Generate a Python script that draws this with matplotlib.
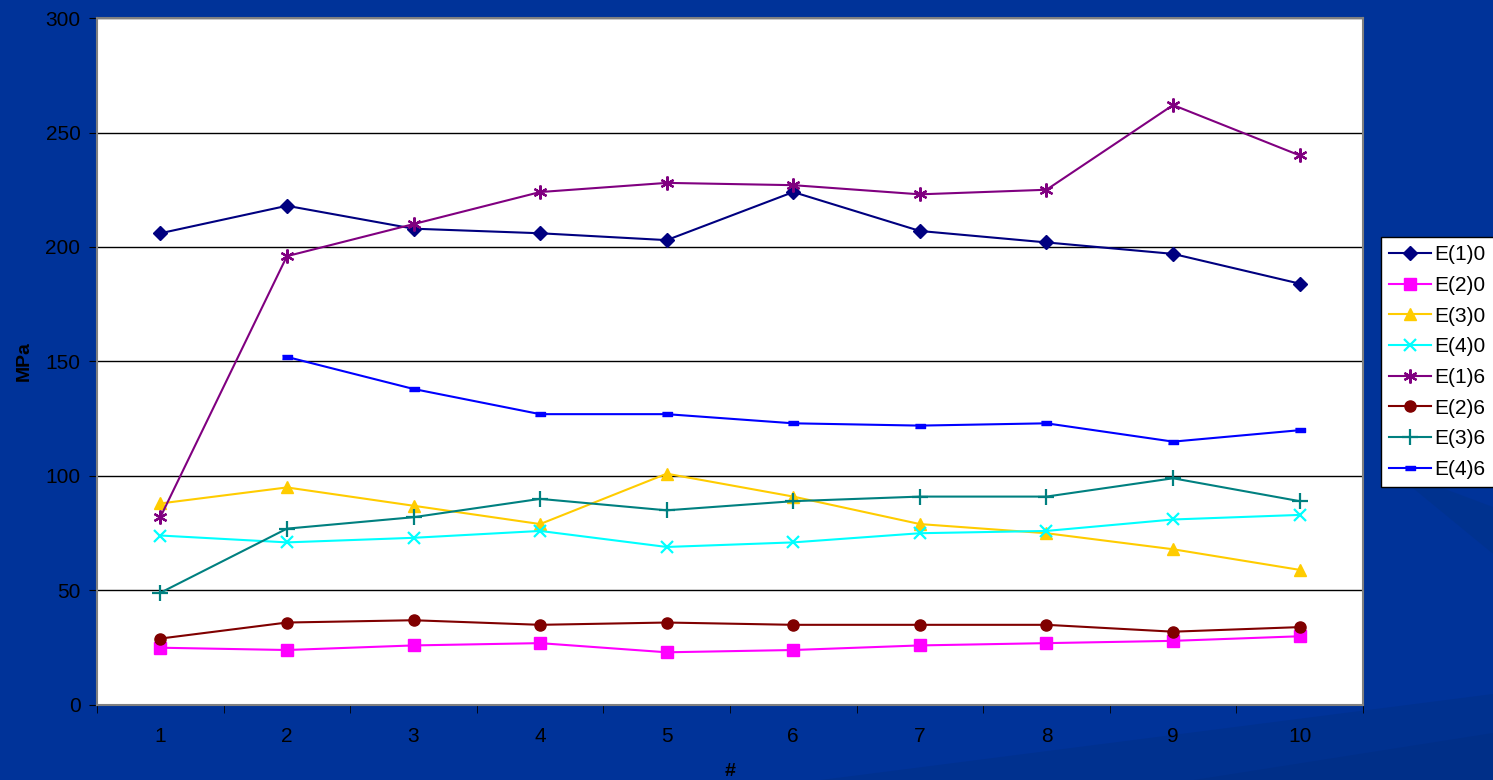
import numpy as np
import matplotlib
matplotlib.use("Agg")
import matplotlib.pyplot as plt
from matplotlib.patches import Polygon

plt.rcParams['font.family'] = ['Liberation Sans', 'DejaVu Sans']

# ---- datos ----
x = np.arange(1, 11)
e10 = [206, 218, 208, 206, 203, 224, 207, 202, 197, 184]
e20 = [25, 24, 26, 27, 23, 24, 26, 27, 28, 30]
e30 = [88, 95, 87, 79, 101, 91, 79, 75, 68, 59]
e40 = [74, 71, 73, 76, 69, 71, 75, 76, 81, 83]
e16 = [82, 196, 210, 224, 228, 227, 223, 225, 262, 240]
e26 = [29, 36, 37, 35, 36, 35, 35, 35, 32, 34]
e36 = [49, 77, 82, 90, 85, 89, 91, 91, 99, 89]
e46 = [np.nan, 152, 138, 127, 127, 123, 122, 123, 115, 120]

labels = ["E(1)0", "E(2)0", "E(3)0", "E(4)0", "E(1)6", "E(2)6", "E(3)6", "E(4)6"]
yticks = [0, 50, 100, 150, 200, 250, 300]

bg = "#003399"
fig = plt.figure(figsize=(14.93, 7.8), dpi=100, facecolor=bg)

# bandas oscuras del fondo (abajo a la derecha)
for pts, col in [([(0.55, 0.0), (1.0, 0.0), (1.0, 0.11)], "#00318f"),
                 ([(0.80, 0.0), (1.0, 0.0), (1.0, 0.06)], "#002f88"),
                 ([(0.93, 0.40), (1.0, 0.29), (1.0, 0.35)], "#00328f")]:
    fig.patches.append(Polygon(pts, closed=True, transform=fig.transFigure,
                               facecolor=col, edgecolor="none", zorder=-5))

ax = fig.add_axes([0.065, 0.0962, 0.8479, 0.8807])
ax.set_zorder(2)
ax.set_facecolor("white")

estilos = [
    (e10, "#000080", dict(marker="D", markersize=7)),
    (e20, "#FF00FF", dict(marker="s", markersize=8)),
    (e30, "#FFCC00", dict(marker="^", markersize=9)),
    (e40, "#00FFFF", dict(marker="x", markersize=9, markeredgewidth=1.6)),
    (e16, "#800080", dict(marker=(6, 2, 0), markersize=10, markeredgewidth=1.6)),
    (e26, "#800000", dict(marker="o", markersize=8)),
    (e36, "#008080", dict(marker="+", markersize=11, markeredgewidth=1.6)),
    (e46, "#0000FF", dict(marker=[(-1, -0.4), (1, -0.4), (1, 0.4), (-1, 0.4)], markersize=7)),
]

for (vals, col, mk), lab in zip(estilos, labels):
    ax.plot(x, vals, color=col, lw=1.5, label=lab, markerfacecolor=col, markeredgecolor=col, **mk)

ax.set_xlim(0.5, 10.5)
ax.set_ylim(0, 300)
ax.set_yticks(yticks)
ax.yaxis.grid(True, color="black", lw=1)
ax.set_axisbelow(True)

ax.set_xticks(x)
ax.set_xticks(np.arange(0.5, 11, 1), minor=True)
ax.tick_params(axis="x", which="major", length=0, pad=16, labelsize=15, labelcolor="black")
ax.tick_params(axis="x", which="minor", length=6, direction="out", color="black")
ax.tick_params(axis="y", length=6, direction="out", pad=6, labelsize=15, labelcolor="black", color="black")

for s in ax.spines.values():
    s.set_color("#808080")
    s.set_linewidth(1.5)

ax.set_ylabel("MPa", fontsize=14, fontweight="bold")
ax.yaxis.set_label_coords(-0.051, 0.5)
ax.set_xlabel("#", fontsize=14, fontweight="bold", labelpad=12)

leg = fig.legend(loc="upper left", bbox_to_anchor=(0.925, 0.696), bbox_transform=fig.transFigure,
                 fontsize=15, frameon=True, fancybox=False, edgecolor="black", facecolor="white",
                 framealpha=1, handlelength=2.0, labelspacing=0.56, borderpad=0.4, handletextpad=0.15,
                 borderaxespad=0)
leg.get_frame().set_linewidth(1)

fig.savefig("out.png", dpi=100, facecolor=bg)
